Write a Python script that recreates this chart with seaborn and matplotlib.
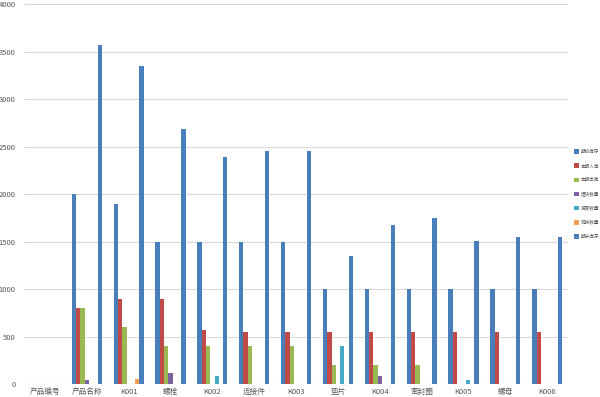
import matplotlib
matplotlib.use("Agg")
import matplotlib.pyplot as plt
import seaborn as sns
import pandas as pd

categories = ["产品编号", "产品名称", "K001", "螺栓", "K002", "连接件", "K003",
              "垫片", "K004", "密封圈", "K005", "螺母", "K006"]
series_names = ["期初库存", "本期入库", "本期出库", "退货数量", "报废数量", "调拨数量", "期末库存"]
s1 = [0, 2000, 1900, 1500, 1500, 1500, 1500, 1000, 1000, 1000, 1000, 1000, 1000]
s2 = [0, 800, 900, 900, 570, 550, 550, 550, 550, 550, 550, 550, 550]
s3 = [0, 800, 600, 400, 400, 400, 400, 200, 200, 200, 0, 0, 0]
s4 = [0, 40, 0, 120, 0, 0, 0, 0, 80, 0, 0, 0, 0]
s5 = [0, 0, 0, 0, 80, 0, 0, 400, 0, 0, 40, 0, 0]
s6 = [0, 0, 50, 0, 0, 0, 0, 0, 0, 0, 0, 0, 0]
s7 = [0, 3570, 3350, 2680, 2390, 2450, 2450, 1350, 1670, 1750, 1510, 1550, 1550]
series_values = [s1, s2, s3, s4, s5, s6, s7]
y_ticks = [0, 500, 1000, 1500, 2000, 2500, 3000, 3500, 4000]

colors = ["#4A7EBB", "#BE4B48", "#98B954", "#7D60A0", "#46AAC5", "#F59D56", "#4A7EBB"]

rows = []
for name, vals in zip(series_names, series_values):
    for c, v in zip(categories, vals):
        rows.append({"cat": c, "series": name, "value": v})
df = pd.DataFrame(rows)

sns.set_style("white")
plt.rcParams["font.family"] = ["Noto Sans CJK SC", "DejaVu Sans"]

fig = plt.figure(figsize=(6, 3.97), dpi=100)
ax = fig.add_axes([0.04, 0.0327, 0.907, 0.957])

sns.barplot(data=df, x="cat", y="value", hue="series", order=categories,
            hue_order=series_names, palette=colors, width=0.72, linewidth=0,
            saturation=1, errorbar=None, ax=ax, legend=True)

ax.set_ylim(0, 4000)
ax.set_yticks(y_ticks)
ax.set_yticklabels([str(t) for t in y_ticks])
ax.yaxis.grid(True, color="#D9D9D9", linewidth=0.8)
ax.set_axisbelow(True)
for sp in ax.spines.values():
    sp.set_visible(False)
ax.set_xlabel("")
ax.set_ylabel("")
ax.tick_params(axis="both", length=0, labelsize=5.5, labelcolor="#595959", pad=3)
ax.tick_params(axis="y", pad=6)

handles, labels = ax.get_legend_handles_labels()
ax.legend(handles, labels, loc="center left", bbox_to_anchor=(1.01, 0.5),
          frameon=False, fontsize=3.3, handlelength=1.1, handleheight=1.1,
          handletextpad=0.4, labelspacing=2.0, borderaxespad=0, borderpad=0)
for t in ax.get_legend().get_texts():
    t.set_color("#595959")

fig.savefig("out.png", dpi=100)
